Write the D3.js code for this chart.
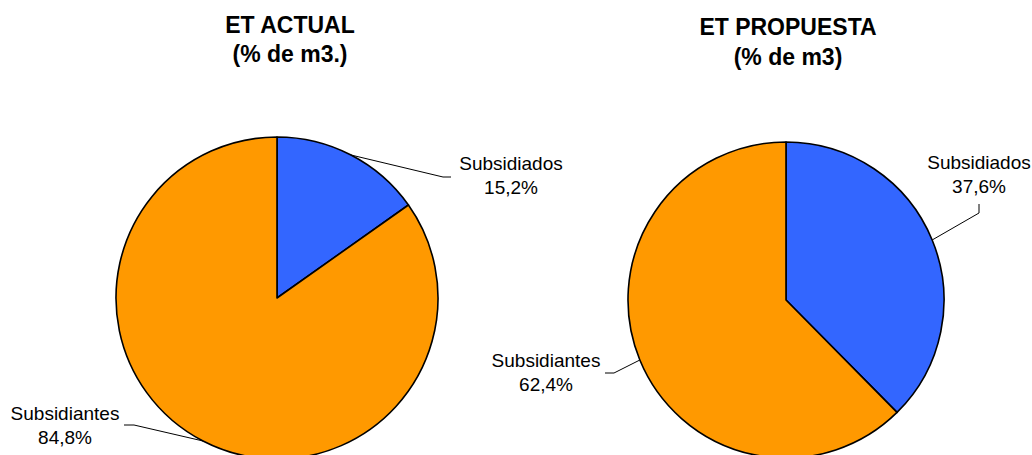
<!DOCTYPE html>
<html lang="es">
<head>
    <meta charset="UTF-8">
    <title>ET actual vs propuesta</title>
    <script src="https://d3js.org/d3.v7.min.js"></script>
    <style>
        body { margin: 0; background: #fff; }
        text { font-family: "Liberation Sans", Arial, sans-serif; fill: #000; }
        .title { font-size: 23px; font-weight: bold; }
        .lbl { font-size: 19px; }
    </style>
</head>
<body>
<div id="chart"></div>
<script>
    // data
    const categories = ["Subsidiados", "Subsidiantes"];
    const actualValues = [15.2, 84.8];
    const propuestaValues = [37.6, 62.4];
    const colors = ["#3366ff", "#ff9900"];

    const svg = d3.select("#chart").append("svg")
        .attr("width", 1032)
        .attr("height", 455);

    // layout for each pie: center, radius, titles and label anchors
    const charts = [
        {
            values: actualValues,
            titles: ["ET ACTUAL", "(% de m3.)"],
            tx: 290, ty: [33, 62],
            cx: 277, cy: 298, r: 161,
            labels: [
                { x: 511, y: 170, elbow: [[443, 177], [451, 177]] },
                { x: 65, y: 420, elbow: [[134, 425], [124, 425]] }
            ]
        },
        {
            values: propuestaValues,
            titles: ["ET PROPUESTA", "(% de m3)"],
            tx: 788, ty: [35, 65],
            cx: 786, cy: 300, r: 158,
            labels: [
                { x: 979, y: 169, elbow: [[979, 213], [979, 204]] },
                { x: 546, y: 367, elbow: [[614, 373], [605, 373]] }
            ]
        }
    ];

    const pie = d3.pie().sort(null).value(d => d);
    const fmt = v => d3.format(".1f")(v).replace(".", ",") + "%";

    charts.forEach(c => {
        const g = svg.append("g");

        c.titles.forEach((t, i) => {
            g.append("text")
                .attr("class", "title")
                .attr("x", c.tx)
                .attr("y", c.ty[i])
                .attr("text-anchor", "middle")
                .text(t);
        });

        const arc = d3.arc().innerRadius(0).outerRadius(c.r);
        const arcs = pie(c.values);

        const pg = g.append("g").attr("transform", `translate(${c.cx},${c.cy})`);
        pg.selectAll("path")
            .data(arcs)
            .enter()
            .append("path")
            .attr("d", arc)
            .attr("fill", (d, i) => colors[i])
            .attr("stroke", "#000")
            .attr("stroke-width", 1.6)
            .attr("stroke-linejoin", "round");

        arcs.forEach((a, i) => {
            const mid = (a.startAngle + a.endAngle) / 2;
            const px = c.cx + Math.sin(mid) * c.r;
            const py = c.cy - Math.cos(mid) * c.r;
            const L = c.labels[i];
            const pts = [[px, py]].concat(L.elbow);
            g.append("path")
                .attr("d", d3.line()(pts))
                .attr("fill", "none")
                .attr("stroke", "#000")
                .attr("stroke-width", 1);

            g.append("text")
                .attr("class", "lbl")
                .attr("x", L.x)
                .attr("y", L.y)
                .attr("text-anchor", "middle")
                .text(categories[i]);
            g.append("text")
                .attr("class", "lbl")
                .attr("x", L.x)
                .attr("y", L.y + 24)
                .attr("text-anchor", "middle")
                .text(fmt(c.values[i]));
        });
    });
</script>
</body>
</html>
